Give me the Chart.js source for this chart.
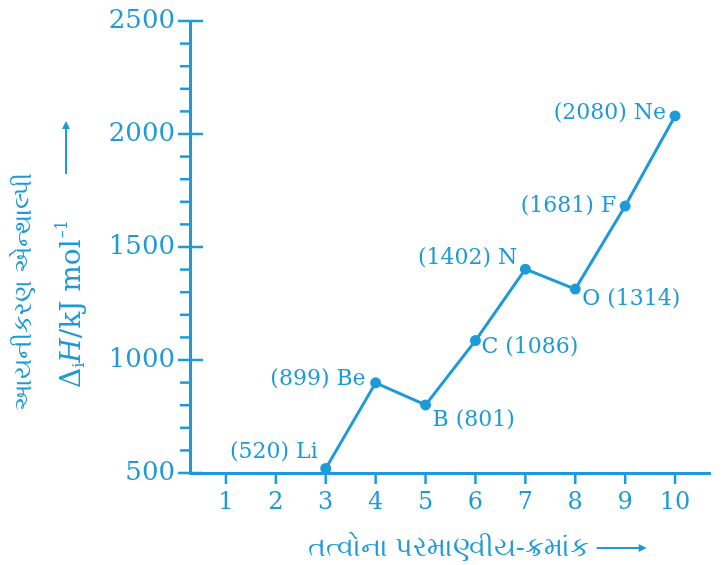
<!DOCTYPE html>
<html>
<head>
<meta charset="utf-8">
<script src="https://cdn.jsdelivr.net/npm/chart.js@4"></script>
<style>
  html, body { margin: 0; padding: 0; background: #fff; }
  #wrap { width: 723px; height: 565px; }
</style>
</head>
<body>
<div id="wrap"><canvas id="myChart"></canvas></div>
<script>
// data
const atomicNumbers = [3, 4, 5, 6, 7, 8, 9, 10];
const elements = ['Li', 'Be', 'B', 'C', 'N', 'O', 'F', 'Ne'];
const enthalpy = [520, 899, 801, 1086, 1402, 1314, 1681, 2080];
const xTicks = [1, 2, 3, 4, 5, 6, 7, 8, 9, 10];
const yMajorTicks = [500, 1000, 1500, 2000, 2500];

const yTitle1 = 'આયનીકરણ એન્થાલ્પી';
const xTitle = 'તત્વોના પરમાણ્વીય-ક્રમાંક';

const blue = '#1e9ad6';
const serif = '"DejaVu Serif", serif';

// label placement for each point: [dx, dy, align]
const labelPos = {
  Li: [-8, -16, 'right'], Be: [-10, -4, 'right'], B: [7, 15, 'left'], C: [6, 7, 'left'],
  N: [-8, -11, 'right'], O: [7, 10, 'left'], F: [-9, 0, 'right'], Ne: [-9, -3, 'right']
};

let points = [];
for (let i = 0; i < atomicNumbers.length; i++) {
  points.push({ x: atomicNumbers[i], y: enthalpy[i] });
}

// ticks, point labels and axis titles
const extras = {
  id: 'extras',
  afterDraw(chart) {
    const ctx = chart.ctx;
    const xs = chart.scales.x;
    const ys = chart.scales.y;
    const area = chart.chartArea;
    ctx.save();
    ctx.strokeStyle = blue;
    ctx.fillStyle = blue;
    ctx.lineWidth = 2.5;

    // y ticks
    for (let v = ys.min; v <= ys.max; v += 100) {
      const py = ys.getPixelForValue(v);
      const major = yMajorTicks.includes(v);
      ctx.beginPath();
      ctx.moveTo(area.left - (major ? 12 : 10), py);
      ctx.lineTo(area.left + (major ? 13 : 0), py);
      ctx.stroke();
    }
    // x ticks
    xTicks.forEach(function(v) {
      const px = xs.getPixelForValue(v);
      ctx.beginPath();
      ctx.moveTo(px, area.bottom);
      ctx.lineTo(px, area.bottom + 11);
      ctx.stroke();
    });

    // point labels
    ctx.font = '22px ' + serif;
    ctx.textBaseline = 'middle';
    for (let i = 0; i < elements.length; i++) {
      const px = xs.getPixelForValue(atomicNumbers[i]);
      const py = ys.getPixelForValue(enthalpy[i]);
      const p = labelPos[elements[i]];
      ctx.textAlign = p[2];
      const txt = p[2] === 'right'
        ? '(' + enthalpy[i] + ') ' + elements[i]
        : elements[i] + ' (' + enthalpy[i] + ')';
      ctx.fillText(txt, px + p[0], py + p[1]);
    }

    // y titles
    ctx.save();
    ctx.translate(24, 292);
    ctx.rotate(-Math.PI / 2);
    ctx.textAlign = 'center';
    ctx.font = '25px "Noto Sans", sans-serif';
    ctx.fillText(yTitle1, 0, 0);
    ctx.restore();

    ctx.save();
    ctx.translate(73, 388);
    ctx.rotate(-Math.PI / 2);
    ctx.textAlign = 'left';
    let cx = 0;
    ctx.font = '28px ' + serif;
    ctx.fillText('Δ', cx, 0); cx += ctx.measureText('Δ').width;
    ctx.font = '16px ' + serif;
    ctx.fillText('i', cx, 7); cx += ctx.measureText('i').width;
    ctx.font = 'italic 28px ' + serif;
    ctx.fillText('H', cx, 0); cx += ctx.measureText('H').width;
    ctx.font = '28px ' + serif;
    ctx.fillText('/kJ mol', cx, 0); cx += ctx.measureText('/kJ mol').width;
    ctx.font = '16px ' + serif;
    ctx.fillText('–1', cx + 1, -10);
    ctx.restore();

    // arrow up
    ctx.lineWidth = 2;
    ctx.beginPath();
    ctx.moveTo(66, 174);
    ctx.lineTo(66, 126);
    ctx.stroke();
    ctx.beginPath();
    ctx.moveTo(66, 121); ctx.lineTo(62, 129); ctx.lineTo(70, 129); ctx.closePath();
    ctx.fill();

    // x title
    ctx.font = '27px "Noto Sans", sans-serif';
    ctx.textAlign = 'left';
    ctx.fillText(xTitle, 308, 548);
    const tw = ctx.measureText(xTitle).width;
    const ax = 308 + tw + 8;
    ctx.beginPath();
    ctx.moveTo(ax, 548);
    ctx.lineTo(ax + 44, 548);
    ctx.stroke();
    ctx.beginPath();
    ctx.moveTo(ax + 50, 548); ctx.lineTo(ax + 42, 544); ctx.lineTo(ax + 42, 552); ctx.closePath();
    ctx.fill();

    ctx.restore();
  }
};

new Chart(document.getElementById('myChart'), {
  type: 'scatter',
  data: {
    datasets: [{
      data: points,
      showLine: true,
      borderColor: blue,
      backgroundColor: blue,
      borderWidth: 3,
      pointRadius: 4,
      pointHoverRadius: 4
    }]
  },
  options: {
    responsive: true,
    maintainAspectRatio: false,
    animation: false,
    layout: { padding: { top: 21, right: 13, left: 0, bottom: 0 } },
    plugins: { legend: { display: false }, tooltip: { enabled: false } },
    scales: {
      x: {
        type: 'linear',
        min: 0.28,
        max: 10.7,
        afterBuildTicks: function(s) { s.ticks = xTicks.map(v => ({ value: v })); },
        afterFit: function(s) { s.height = 92; s.paddingLeft = 0; s.paddingRight = 0; },
        grid: { display: false, drawTicks: false },
        border: { color: blue, width: 3 },
        ticks: {
          autoSkip: false,
          maxRotation: 0,
          padding: 15,
          color: blue,
          font: { family: serif, size: 24 }
        }
      },
      y: {
        min: 500,
        max: 2500,
        afterBuildTicks: function(s) {
          let t = [];
          for (let v = 500; v <= 2500; v += 100) t.push({ value: v });
          s.ticks = t;
        },
        afterFit: function(s) { s.width = 190; s.paddingTop = 0; s.paddingBottom = 0; },
        grid: { display: false, drawTicks: false },
        border: { color: blue, width: 3 },
        ticks: {
          autoSkip: false,
          padding: 15,
          color: blue,
          font: { family: serif, size: 26 },
          callback: function(v) { return yMajorTicks.includes(v) ? v : ''; }
        }
      }
    }
  },
  plugins: [extras]
});
</script>
</body>
</html>
